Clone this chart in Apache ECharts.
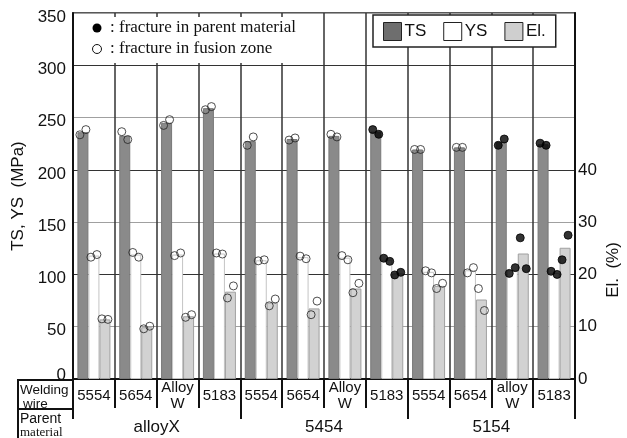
<!DOCTYPE html>
<html>
<head>
<meta charset="utf-8">
<script src="https://cdn.jsdelivr.net/npm/echarts@6/dist/echarts.min.js"></script>
<style>
  html, body { margin: 0; padding: 0; background: #fff; }
  #chart { width: 627px; height: 438px; }
</style>
</head>
<body>
<div id="chart"></div>
<script>
// Welding wire per column, and the parent material each block of four belongs to
const wires = ['5554', '5654', 'Alloy\nW', '5183', '5554', '5654', 'Alloy\nW', '5183', '5554', '5654', 'alloy\nW', '5183'];
const parents = ['alloyX', '5454', '5154'];

// Mean values drawn as bars (TS, YS in MPa; El. in %)
const tsMean = [236, 232.5, 245, 259, 227.5, 229.5, 232.5, 236.5, 219.5, 221.5, 226.5, 224.5];
const ysMean = [118, 119, 119, 120, 113.5, 116.5, 116, 114, 102.5, 104, 104, 101.5];
const elMean = [11.4, 9.9, 12.0, 16.7, 14.6, 13.5, 17.3, 20.2, 17.8, 15.2, 24.0, 25.1];

// Individual specimens (two per column)
const tsSpec = [[233.5, 238.5], [236.5, 229], [242.5, 248], [257.5, 260.5], [223.5, 231.5], [228.5, 230.5],
                [234, 231.5], [238.5, 234], [219.5, 219.5], [221.5, 221.5], [223.5, 229.5], [225.5, 223.5]];
const ysSpec = [[116.5, 119], [121, 116.5], [118, 120.5], [120.5, 119.5], [113, 114], [117.5, 115],
                [118, 114], [115.5, 112.5], [103.5, 101.5], [101.5, 106.5], [101, 106.5], [103, 100]];
const elSpec = [[11.5, 11.4], [9.6, 10.1], [11.8, 12.3], [15.5, 17.8], [14.0, 15.3], [12.3, 14.9],
                [16.5, 18.3], [19.9, 20.4], [17.3, 18.3], [17.3, 13.1], [27.0, 21.1], [22.8, 27.5]];

// Fracture location of the specimens in each column
const fracture = ['fusion', 'fusion', 'fusion', 'fusion', 'fusion', 'fusion', 'fusion', 'parent',
                  'fusion', 'fusion', 'parent', 'parent'];

const leftTicks = [0, 50, 100, 150, 200, 250, 300, 350];
const rightTicks = [0, 10, 20, 30, 40];

const SANS = '"Liberation Sans", Arial, sans-serif';
const SERIF = '"Liberation Serif", "Times New Roman", serif';

function specimenPoints(spec, k) {
  return spec.map((pair, i) => ({
    value: pair[k],
    itemStyle: fracture[i] === 'parent'
      ? { color: '#000', borderColor: '#000', borderWidth: 1 }
      : { color: 'rgba(0,0,0,0)', borderColor: '#222', borderWidth: 1 }
  }));
}

function specimenSeries(spec, k, axis, dx) {
  return {
    type: 'scatter',
    yAxisIndex: axis,
    symbol: 'circle',
    symbolSize: 8,
    symbolOffset: [dx, 0],
    data: specimenPoints(spec, k),
    z: 5,
    silent: true
  };
}

const chart = echarts.init(document.getElementById('chart'), null, { renderer: 'canvas' });

chart.setOption({
  animation: false,
  backgroundColor: '#fff',
  grid: { left: 73, right: 52, top: 13, bottom: 59, show: true, borderColor: '#222', borderWidth: 1.5, backgroundColor: 'transparent' },
  legend: {
    left: 373, top: 15,
    padding: [7, 10, 6, 10],
    backgroundColor: '#fff',
    borderColor: '#222', borderWidth: 1.5,
    itemWidth: 18, itemHeight: 18, itemGap: 17,
    icon: 'rect',
    textStyle: { fontFamily: SANS, fontSize: 17, color: '#111', padding: [0, 0, 0, -2] },
    data: [
      { name: 'TS', itemStyle: { color: '#6e6e6e', borderColor: '#222', borderWidth: 1 } },
      { name: 'YS', itemStyle: { color: '#fff', borderColor: '#222', borderWidth: 1 } },
      { name: 'El.', itemStyle: { color: '#cfcfcf', borderColor: '#222', borderWidth: 1 } }
    ]
  },
  xAxis: [
    {
      type: 'category', data: wires, position: 'bottom',
      axisLine: { show: true, lineStyle: { color: '#111', width: 2 } },
      axisTick: { show: true, inside: false, length: 29, lineStyle: { color: '#111', width: 2 } },
      splitLine: { show: true, lineStyle: { color: '#333', width: 1.5 } },
      axisLabel: { interval: 0, fontFamily: SANS, fontSize: 15, color: '#111', lineHeight: 16, margin: 17, verticalAlign: 'middle' }
    },
    {
      type: 'category', data: parents, position: 'bottom', offset: 29,
      axisLine: { show: true, lineStyle: { color: '#111', width: 2 } },
      axisTick: { show: true, inside: false, length: 40, lineStyle: { color: '#111', width: 2 } },
      splitLine: { show: false },
      axisLabel: { interval: 0, fontFamily: SANS, fontSize: 17, color: '#111', margin: 19, verticalAlign: 'middle' }
    }
  ],
  yAxis: [
    {
      type: 'value', min: leftTicks[0], max: leftTicks[leftTicks.length - 1], interval: 50,
      name: 'TS, YS  (MPa)', nameLocation: 'middle', nameGap: 44, nameRotate: 90,
      nameTextStyle: { fontFamily: SANS, fontSize: 17, color: '#111' },
      axisLine: { show: true, lineStyle: { color: '#111', width: 2 } },
      axisTick: { show: false },
      splitLine: { show: true, lineStyle: { color: ['#333', '#a0a0a0'], width: 1.2 } },
      axisLabel: { fontFamily: SANS, fontSize: 17, color: '#111', margin: 7, padding: [8, 0, 0, 0],
                   formatter: v => leftTicks.includes(v) ? (v === 0 ? '{base|0}' : String(v)) : '',
                   rich: { base: { fontFamily: SANS, fontSize: 17, color: '#111', padding: [0, 0, 16, 0] } } }
    },
    {
      type: 'value', min: 0, max: 70, interval: 10, position: 'right',
      axisLine: { show: true, lineStyle: { color: '#111', width: 2 } },
      axisTick: { show: false },
      splitLine: { show: false },
      axisLabel: { fontFamily: SANS, fontSize: 17, color: '#111', margin: 3, padding: [8, 0, 0, 0],
                   formatter: v => rightTicks.includes(v) ? String(v) : '' }
    }
  ],
  series: [
    { name: 'TS', type: 'bar', data: tsMean, barWidth: 11, barGap: '0%',
      itemStyle: { color: '#8a8a8a', borderColor: '#787878', borderWidth: 1 } },
    { name: 'YS', type: 'bar', data: ysMean, barWidth: 11, barGap: '0%',
      itemStyle: { color: '#fff', borderColor: '#c4c4c4', borderWidth: 1 } },
    { name: 'El.', type: 'bar', data: elMean, yAxisIndex: 1, barWidth: 11, barGap: '0%',
      itemStyle: { color: '#d2d2d2', borderColor: '#a0a0a0', borderWidth: 1 } },
    specimenSeries(tsSpec, 0, 0, -14),
    specimenSeries(tsSpec, 1, 0, -8),
    specimenSeries(ysSpec, 0, 0, -3),
    specimenSeries(ysSpec, 1, 0, 3),
    specimenSeries(elSpec, 0, 1, 8),
    specimenSeries(elSpec, 1, 1, 14)
  ],
  graphic: [
    // key for the specimen symbols
    { type: 'rect', z: 100, shape: { x: 74, y: 17, width: 248, height: 46 }, style: { fill: '#fff' } },
    { type: 'circle', z: 101, shape: { cx: 97, cy: 28, r: 4.5 }, style: { fill: '#000' } },
    { type: 'text', z: 101, style: { x: 110, y: 28, text: ': fracture in parent material', font: '17px ' + SERIF, fill: '#111', verticalAlign: 'middle' } },
    { type: 'circle', z: 101, shape: { cx: 97, cy: 49, r: 4.5 }, style: { fill: '#fff', stroke: '#111', lineWidth: 1 } },
    { type: 'text', z: 101, style: { x: 110, y: 49, text: ': fracture in fusion zone', font: '17px ' + SERIF, fill: '#111', verticalAlign: 'middle' } },
    // right axis title
    { type: 'text', z: 101, rotation: Math.PI / 2, x: 613, y: 270,
      style: { text: 'El.  (%)', font: '17px ' + SANS, fill: '#111', align: 'center', verticalAlign: 'middle' } },
    // header column of the table below the axis
    { type: 'polyline', z: 101, shape: { points: [[73, 380], [18, 380], [18, 440]] }, style: { stroke: '#111', lineWidth: 2, fill: null } },
    { type: 'line', z: 101, shape: { x1: 18, y1: 409, x2: 73, y2: 409 }, style: { stroke: '#111', lineWidth: 2 } },
    { type: 'text', z: 101, style: { x: 20, y: 390, text: 'Welding', font: '13.5px ' + SANS, fill: '#111', verticalAlign: 'middle' } },
    { type: 'text', z: 101, style: { x: 23, y: 404, text: 'wire', font: '13.5px ' + SANS, fill: '#111', verticalAlign: 'middle' } },
    { type: 'text', z: 101, style: { x: 20, y: 419, text: 'Parent', font: '14px ' + SANS, fill: '#111', verticalAlign: 'middle' } },
    { type: 'text', z: 101, style: { x: 20, y: 433, text: 'material', font: '13px ' + SERIF, fill: '#111', verticalAlign: 'middle' } }
  ]
});
</script>
</body>
</html>
